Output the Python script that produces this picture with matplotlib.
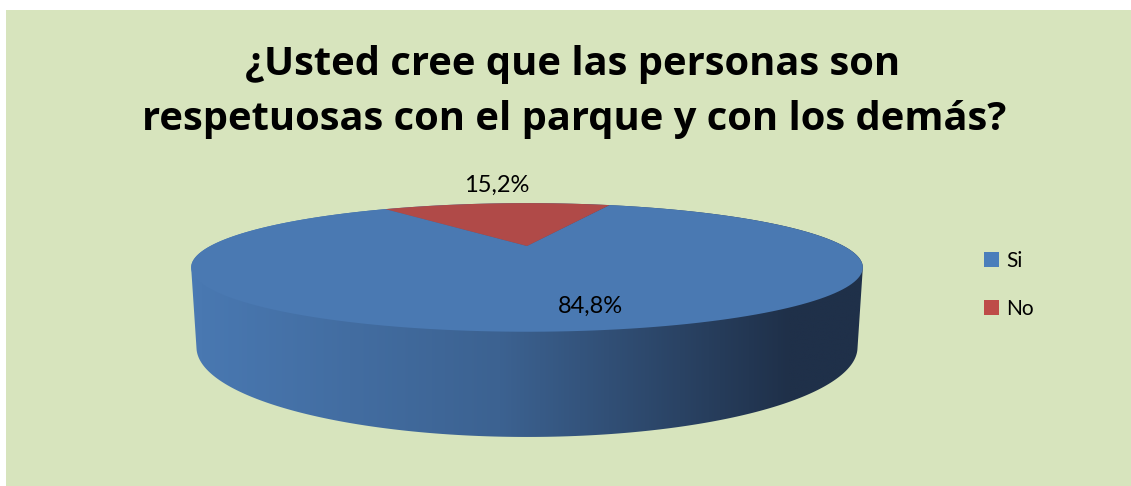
import numpy as np
import matplotlib
matplotlib.use("Agg")
import matplotlib.pyplot as plt
from matplotlib.patches import Polygon, Rectangle, Patch
from matplotlib.colors import LinearSegmentedColormap

# ---------------- data ----------------
categories = ["Si", "No"]
values = [84.8, 15.2]
value_labels = ["84,8%", "15,2%"]
title_lines = ["¿Usted cree que las personas son",
               "respetuosas con el parque y con los demás?"]

# ---------------- style ----------------
top_colors = ["#4a79b2", "#b04a48"]
legend_colors = ["#4a7ebb", "#be4b48"]
panel_color = "#d7e4bd"
FONT = "Lato"
TITLE_FONT = "Open Sans"

W, H = 1131, 486
fig = plt.figure(figsize=(W / 100, H / 100), dpi=100)
fig.patch.set_facecolor("white")
ax = fig.add_axes([0, 0, 1, 1])
ax.axis("off")
ax.set_xlim(0, W)
ax.set_ylim(H, 0)
ax.add_patch(Rectangle((6, 10), W - 6, H - 10, facecolor=panel_color,
                       edgecolor="none", zorder=0))

# ---------------- 3D perspective projection ----------------
CX, CY = 527, 246
F, L, ELEV = 934.0, 2.95, np.radians(10.4)
DEPTH = 0.234
START = 70.0  # degrees, first slice starts here going clockwise


def proj(phi_deg, r=1.0, z=0.0):
    phi = np.radians(phi_deg)
    X = r * np.cos(phi)
    Y = r * np.sin(phi)
    d = L + Y * np.cos(ELEV) - z * np.sin(ELEV)
    sx = CX + F * X / d
    sy = CY - F * (Y * np.sin(ELEV) + z * np.cos(ELEV)) / d
    return sx, sy


def hull(pts):
    pts = sorted(map(tuple, pts))
    def cross(o, a, b):
        return (a[0] - o[0]) * (b[1] - o[1]) - (a[1] - o[1]) * (b[0] - o[0])
    lower, upper = [], []
    for p in pts:
        while len(lower) >= 2 and cross(lower[-2], lower[-1], p) <= 0:
            lower.pop()
        lower.append(p)
    for p in reversed(pts):
        while len(upper) >= 2 and cross(upper[-2], upper[-1], p) <= 0:
            upper.pop()
        upper.append(p)
    return np.array(lower[:-1] + upper[:-1])


# side wall (convex hull of top and bottom rings) with horizontal gradient
ring = np.linspace(0, 360, 721)
tx, ty = proj(ring, 1.0, 0.0)
bx, by = proj(ring, 1.0, -DEPTH)
side_pts = hull(np.column_stack([np.r_[tx, bx], np.r_[ty, by]]))
side = Polygon(side_pts, closed=True, facecolor="none", edgecolor="none", zorder=1)
ax.add_patch(side)

x0, x1 = side_pts[:, 0].min() - 2, side_pts[:, 0].max() + 2
stops_px = [x0, 200, 500, 790, x1]
stops_col = ["#4a7ab4", "#4978b1", "#3c6291", "#1f3049", "#1f3049"]
cmap = LinearSegmentedColormap.from_list(
    "side", [((s - x0) / (x1 - x0), c) for s, c in zip(stops_px, stops_col)])
grad = np.linspace(0, 1, 512)[None, :]
im = ax.imshow(grad, extent=(x0, x1, side_pts[:, 1].max() + 2, side_pts[:, 1].min() - 2),
               aspect="auto", cmap=cmap, zorder=1, interpolation="bilinear")
im.set_clip_path(side)

# top face wedges
total = sum(values)
a = START
for v, col in zip(values, top_colors):
    span = 360.0 * v / total
    angs = np.linspace(a, a - span, 200)
    px, py = proj(angs, 1.0, 0.0)
    cx0, cy0 = proj(0.0, 0.0, 0.0)
    poly = np.column_stack([np.r_[cx0, px], np.r_[cy0, py]])
    ax.add_patch(Polygon(poly, closed=True, facecolor=col, edgecolor="none", zorder=2))
    a -= span

# data labels
ax.text(590, 306, value_labels[0], ha="center", va="center", fontsize=17,
        family=FONT, color="black", zorder=3)
ax.text(497, 185, value_labels[1], ha="center", va="center", fontsize=17,
        family=FONT, color="black", zorder=3)

# title: two lines, sized so the longer line spans ~862 px
renderer = fig.canvas.get_renderer()
t1 = ax.text(573, 75, title_lines[0], ha="center", va="baseline", fontsize=28,
             fontweight="bold", family=TITLE_FONT, color="black", zorder=3)
t2 = ax.text(574, 130, title_lines[1], ha="center", va="baseline", fontsize=28,
             fontweight="bold", family=TITLE_FONT, color="black", zorder=3)
w2 = t2.get_window_extent(renderer).width
size = 28 * 862.0 / w2
t1.set_fontsize(size)
t2.set_fontsize(size)

# legend
handles = [Patch(facecolor=c, edgecolor="none") for c in legend_colors]
leg = fig.legend(handles, categories, loc="center left",
                 bbox_to_anchor=(984 / W, 1 - 285 / H), frameon=False,
                 prop={"family": FONT, "size": 15}, handlelength=0.7,
                 handleheight=0.7, handletextpad=0.35, labelspacing=1.35,
                 borderpad=0, borderaxespad=0)

fig.savefig("out.png", dpi=100, facecolor=fig.get_facecolor())
